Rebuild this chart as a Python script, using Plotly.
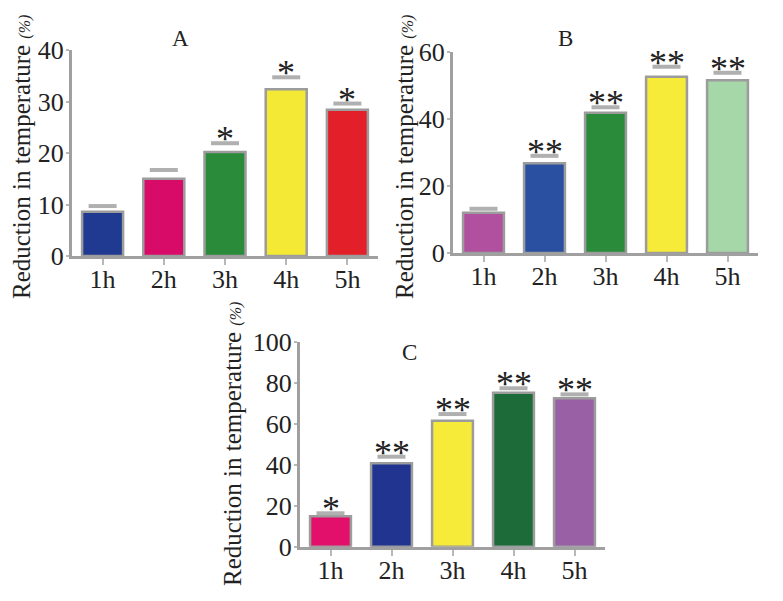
import plotly.graph_objects as go

categories = ["1h", "2h", "3h", "4h", "5h"]

a_values = [8.6, 15.0, 20.2, 32.4, 28.4]
a_err = [1.1, 1.7, 1.7, 2.3, 1.2]
a_sig = ["", "", "*", "*", "*"]
a_colors = ["#213a91", "#d80b68", "#2a8b3b", "#f4ea36", "#e3202a"]

b_values = [12.0, 26.8, 41.9, 52.6, 51.6]
b_err = [1.2, 2.2, 1.6, 3.0, 2.2]
b_sig = ["", "**", "**", "**", "**"]
b_colors = ["#b0509e", "#2a50a2", "#2a8b3b", "#f6eb38", "#a6d7a8"]

c_values = [14.8, 40.7, 61.5, 75.1, 72.4]
c_err = [1.5, 3.2, 3.2, 2.2, 1.9]
c_sig = ["*", "**", "**", "**", "**"]
c_colors = ["#e2106a", "#21348f", "#f6eb38", "#1e6b3a", "#9a60a6"]

# page has an 8px body margin; work in screen pixels and convert
OFF = 8
W, H = 783 - 2 * OFF, 601 - 2 * OFF
FONT = "Liberation Serif, Times New Roman, serif"


def px(x):
    return (x - OFF) / W


def py(y):
    return 1 - (y - OFF) / H


panels = [
    ("A", a_values, a_err, a_sig, a_colors, "", (72, 378), (50, 256), 40, 10, (180, 38), (21, 157)),
    ("B", b_values, b_err, b_sig, b_colors, "2", (453, 758), (52, 253), 60, 20, (565, 38), (404, 157)),
    ("C", c_values, c_err, c_sig, c_colors, "3", (300, 605), (341.7, 546.7), 100, 20, (410, 352), (232, 444)),
]

fig = go.Figure()
annotations = []
layout = {}
for name, vals, err, sig, cols, sfx, (x0, x1), (ytop, ybot), ymax, dt, (tx, ty), (ax_, ay_) in panels:
    xa = "x" + sfx
    ya = "y" + sfx
    caps = [v + e for v, e in zip(vals, err)]
    fig.add_trace(go.Bar(
        x=categories, y=vals, xaxis=xa, yaxis=ya,
        marker=dict(color=cols, line=dict(color="#9c9c9c", width=2.5)),
        width=0.67, showlegend=False, hoverinfo="skip",
    ))
    fig.add_trace(go.Scatter(
        x=categories, y=caps, xaxis=xa, yaxis=ya, mode="markers",
        marker=dict(symbol="line-ew", size=20, line=dict(color="#b0b0b0", width=4)),
        showlegend=False, hoverinfo="skip", cliponaxis=False,
    ))
    layout["xaxis" + sfx] = dict(
        domain=[px(x0), px(x1)], anchor=ya, range=[-0.5, 4.5],
        showline=True, linecolor="#a0a0a0", linewidth=3,
        ticks="outside", ticklen=6, tickwidth=2, tickcolor="#b8b8b8",
        ticklabelstandoff=-8,
        tickfont=dict(family=FONT, size=26, color="#222"),
        showgrid=False, zeroline=False, fixedrange=True, automargin=False,
    )
    layout["yaxis" + sfx] = dict(
        domain=[py(ybot), py(ytop)], anchor=xa, range=[0, ymax],
        dtick=dt, showline=True, linecolor="#a0a0a0", linewidth=3,
        ticks="outside", ticklen=3, tickwidth=2, tickcolor="#b8b8b8",
        ticklabelstandoff=-3,
        tickfont=dict(family=FONT, size=26, color="#222"),
        showgrid=False, zeroline=False, fixedrange=True, automargin=False,
    )
    for i, s in enumerate(sig):
        if s:
            annotations.append(dict(
                x=categories[i], y=caps[i], xref=xa, yref=ya,
                text=s, showarrow=False, yanchor="bottom", yshift=-18,
                font=dict(family=FONT, size=36, color="#222"),
            ))
    annotations.append(dict(
        x=px(tx), y=py(ty), xref="paper", yref="paper", text=name,
        showarrow=False, xanchor="center", yanchor="middle",
        font=dict(family=FONT, size=23, color="#222"),
    ))
    annotations.append(dict(
        x=px(ax_), y=py(ay_), xref="paper", yref="paper", textangle=-90,
        text="Reduction in temperature <i><span style='font-size:16px'>(%)</span></i>",
        showarrow=False, xanchor="center", yanchor="middle",
        font=dict(family=FONT, size=25, color="#222"),
    ))

fig.update_layout(
    width=W, height=H, margin=dict(l=0, r=0, t=0, b=0, pad=0, autoexpand=False),
    paper_bgcolor="white", plot_bgcolor="white",
    annotations=annotations, **layout,
)
fig.write_html("out.html")
